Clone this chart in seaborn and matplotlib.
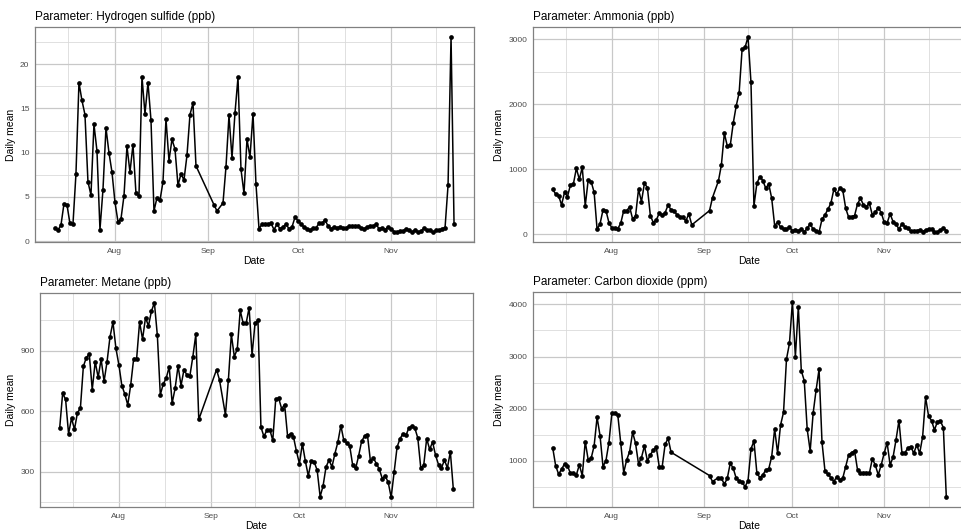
import numpy as np
import pandas as pd
import matplotlib
matplotlib.use("Agg")
import matplotlib.pyplot as plt
import matplotlib.dates as mdates
from matplotlib.ticker import MultipleLocator, FixedLocator
import seaborn as sns

nan = np.nan

# one value per day, 2019-07-12 .. 2019-11-22 (nan = no measurement)
first_day = "2019-07-12"
last_day = "2019-11-22"

h2s = [
    # Jul 12-31
    1.5, 1.24, 1.8, 4.2, 4.1, 2.0, 1.9, 7.6, 17.9, 15.9, 14.3, 6.7, 5.2, 13.2, 10.2, 1.3, 5.8, 12.8, 10.0, 7.8,
    # Aug
    4.4, 2.2, 2.5, 5.1, 10.7, 7.8, 10.9, 5.4, 5.1, 18.6, 14.4, 17.9, 13.7, 3.4, 4.9, 4.6, 6.7, 13.8, 9.1, 11.5,
    10.4, 6.3, 7.6, 6.9, 9.7, 14.3, 15.6, 8.5, nan, nan, nan,
    # Sep
    nan, nan, 4.1, 3.4, nan, 4.3, 8.4, 14.2, 9.4, 14.5, 18.5, 8.1, 5.4, 11.5, 9.5, 14.4, 6.4, 1.4, 1.9, 1.9,
    1.9, 2.0, 1.3, 1.9, 1.4, 1.6, 1.9, 1.4, 1.6, 2.7,
    # Oct
    2.3, 1.9, 1.6, 1.4, 1.2, 1.5, 1.5, 2.0, 2.0, 2.4, 1.7, 1.4, 1.6, 1.5, 1.6, 1.5, 1.5, 1.7, 1.7, 1.7,
    1.7, 1.5, 1.4, 1.6, 1.7, 1.7, 1.9, 1.4, 1.5, 1.3, 1.6,
    # Nov 1-22
    1.4, 1.05, 1.05, 1.1, 1.15, 1.4, 1.2, 1.0, 1.3, 1.0, 1.15, 1.45, 1.2, 1.2, 1.0, 1.2, 1.2, 1.4, 1.5, 6.3,
    23.1, 1.9,
]

ammonia = [
    692, 620, 595, 451, 646, 580, 759, 774, 1015, 846, 1030, 436, 836, 810, 646, 77, 159, 374, 364, 180,
    97, 92, 87, 169, 364, 364, 420, 236, 282, 692, 502, 785, 718, 287, 180, 220, 323, 297, 333, 451,
    374, 364, 297, 272, 262, 205, 313, 144, nan, nan, nan,
    nan, nan, 364, 564, nan, 820, 1067, 1554, 1359, 1369, 1708, 1974, 2179, 2851, 2877, 3041, 2338, 436, 785, 887,
    826, 708, 774, 554, 133, 185, 108, 77, 77, 108,
    56, 67, 56, 77, 36, 92, 159, 77, 56, 31, 231, 297, 385, 477, 692, 620, 708, 682, 400, 262,
    272, 287, 467, 554, 451, 426, 477, 297, 338, 410, 333,
    185, 174, 313, 195, 159, 77, 159, 118, 92, 46, 56, 56, 67, 41, 67, 77, 77, 41, 36, 67,
    92, 56,
]

metane = [
    516, 689, 658, 488, 565, 510, 592, 615, 822, 866, 883, 707, 845, 768, 858, 748, 845, 968, 1042, 912,
    830, 727, 685, 631, 730, 861, 861, 1042, 957, 1064, 1023, 1096, 1138, 976, 682, 735, 764, 820, 640, 713,
    825, 727, 806, 779, 776, 871, 981, 559, nan, nan, nan,
    nan, nan, 806, 755, nan, 582, 755, 981, 871, 907, 1100, 1036, 1036, 1113, 879, 1036, 1050, 521, 475, 505,
    508, 455, 661, 664, 612, 633, 477, 488, 472, 401,
    340, 439, 353, 279, 353, 348, 307, 176, 230, 324, 357, 324, 390, 447, 529, 455, 444, 427, 332, 316,
    378, 450, 477, 480, 352, 368, 340, 312, 266, 279, 247,
    173, 299, 422, 464, 488, 480, 518, 526, 516, 467, 319, 332, 464, 411, 447, 381, 335, 319, 357, 319,
    398, 214,
]

co2 = [
    1250, 904, 738, 834, 936, 898, 757, 757, 725, 917, 712, 1365, 1013, 1045, 1282, 1832, 1480, 885, 1000, 1345,
    1909, 1909, 1877, 1333, 770, 1013, 1173, 1544, 1333, 936, 1058, 1282, 994, 1109, 1205, 1256, 885, 885, 1313, 1429,
    1160, nan, nan, nan, nan, nan, nan, nan, nan, nan, nan,
    nan, nan, 712, 597, nan, 674, 661, 546, 661, 949, 853, 661, 610, 584, 501, 610, 1224, 1377, 757, 674,
    725, 821, 840, 1077, 1608, 1141, 1685, 1928, 2951, 3252,
    4052, 2996, 3956, 2727, 2536, 1601, 1186, 1909, 2356, 2753, 1352, 802, 738, 674, 597, 693, 629, 661, 885, 1109,
    1154, 1186, 821, 757, 770, 770, 757, 1032, 917, 725, 917,
    1141, 1345, 917, 1064, 1397, 1768, 1154, 1154, 1237, 1269, 1141, 1301, 1141, 1461, 2216, 1857, 1768, 1589, 1749, 1761,
    1633, 296,
]

params = ["Hydrogen sulfide (ppb)", "Ammonia (ppb)", "Metane (ppb)", "Carbon dioxide (ppm)"]
y_major = [5, 1000, 300, 1000]
y_minor = [2.5, 500, 150, 500]

days = pd.date_range(first_day, last_day, freq="D")
df = pd.DataFrame({"Date": days, params[0]: h2s, params[1]: ammonia,
                   params[2]: metane, params[3]: co2})
df = df.melt(id_vars="Date", var_name="Parameter", value_name="Daily mean").dropna()

sns.set_theme(style="white")
plt.rcParams["font.family"] = ["Liberation Sans", "DejaVu Sans"]

W, H = 961, 530
fig = plt.figure(figsize=(W / 100, H / 100), dpi=100)

# left, right, top, bottom in pixels
boxes = [(35, 474, 27, 242), (533, 966, 27, 242), (40, 473, 293, 507), (533, 966, 292, 507)]

month_starts = pd.date_range("2019-07-01", "2019-12-01", freq="MS")
mids = [a + (b - a) / 2 for a, b in zip(month_starts[:-1], month_starts[1:])]

for p, box, ymaj, ymin in zip(params, boxes, y_major, y_minor):
    l, r, t, b = box
    ax = fig.add_axes([l / W, 1 - b / H, (r - l) / W, (b - t) / H])
    sub = df[df["Parameter"] == p]
    sns.lineplot(data=sub, x="Date", y="Daily mean", ax=ax, color="black", lw=1.1,
                 marker="o", markersize=3.4, markeredgewidth=0)
    ax.margins(x=0.05, y=0.05)

    ax.xaxis.set_major_locator(mdates.MonthLocator())
    ax.xaxis.set_major_formatter(mdates.DateFormatter("%b"))
    ax.xaxis.set_minor_locator(FixedLocator(mdates.date2num(mids)))
    ax.yaxis.set_major_locator(MultipleLocator(ymaj))
    ax.yaxis.set_minor_locator(MultipleLocator(ymin))

    ax.set_axisbelow(True)
    ax.grid(which="major", color="#c8c8c8", lw=0.9)
    ax.grid(which="minor", color="#dadada", lw=0.6)
    for s in ax.spines.values():
        s.set_color("#808080")
        s.set_linewidth(0.9)

    ax.tick_params(which="major", labelsize=6, labelcolor="#4d4d4d", length=2.5,
                   width=0.6, color="#333333", pad=1.5)
    ax.tick_params(which="minor", length=0)
    ax.set_xlabel("Date", fontsize=7.5, labelpad=1, color="black")
    ax.set_ylabel("Daily mean", fontsize=7.5, labelpad=3, color="black")
    ax.set_title("Parameter: " + p, loc="left", fontsize=8.5, pad=5, color="black")

fig.savefig("out.png", dpi=100)
